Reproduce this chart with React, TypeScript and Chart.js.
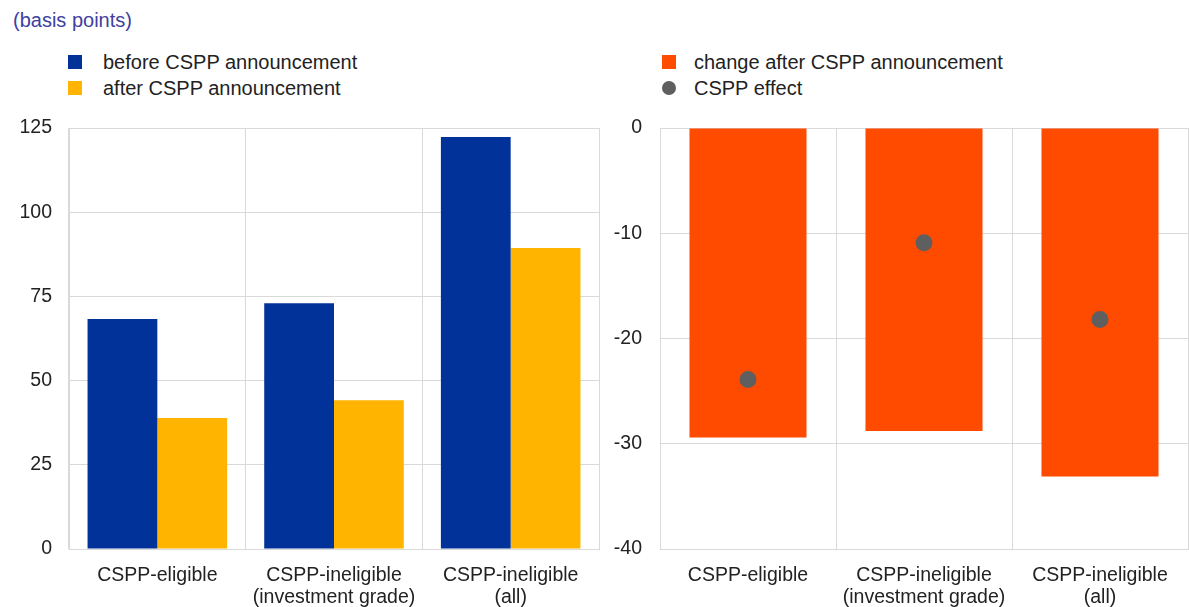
import React, { useEffect, useRef } from "react";
import { Chart, registerables } from "chart.js";

Chart.register(...registerables);

const categories: string[][] = [
  ["CSPP-eligible"],
  ["CSPP-ineligible", "(investment grade)"],
  ["CSPP-ineligible", "(all)"],
];
const beforeValues = [68.3, 73.0, 122.3];
const afterValues = [38.9, 44.2, 89.4];
const changeValues = [-29.4, -28.8, -33.1];
const effectValues = [-23.9, -10.9, -18.2];

const leftTicks = { min: 0, max: 125, step: 25 };
const rightTicks = { min: -40, max: 0, step: 10 };

const seriesNames = {
  before: "before CSPP announcement",
  after: "after CSPP announcement",
  change: "change after CSPP announcement",
  effect: "CSPP effect",
};
const unitLabel = "(basis points)";

const FONT = "'Liberation Sans', Arial, sans-serif";
const AXIS_FONT = 19.5;
const LEGEND_FONT = 20;
const TEXT = "#222222";
const GRID = "#d9d9d9";
const BLUE = "#003299";
const YELLOW = "#ffb400";
const ORANGE = "#ff4b00";
const GREY = "#5f5f5f";

function makeScales(min: number, max: number, step: number, yWidth: number, tickPad: number) {
  return {
    x: {
      offset: true,
      grid: { color: GRID, offset: true, drawTicks: false, lineWidth: 1 },
      border: { color: GRID },
      ticks: {
        color: TEXT,
        font: { family: FONT, size: AXIS_FONT, lineHeight: 1.13 },
        padding: 16,
        maxRotation: 0,
        autoSkip: false,
      },
      afterFit: (s: any) => {
        s.height = 58;
        s.paddingLeft = 0;
        s.paddingRight = 0;
      },
    },
    y: {
      min,
      max,
      grid: { color: GRID, drawTicks: false, lineWidth: 1 },
      border: { color: GRID },
      ticks: {
        stepSize: step,
        color: TEXT,
        font: { family: FONT, size: AXIS_FONT },
        padding: tickPad,
      },
      afterFit: (s: any) => {
        s.width = yWidth;
        s.paddingTop = 0;
        s.paddingBottom = 0;
      },
    },
  };
}

function LeftChart() {
  const ref = useRef<HTMLCanvasElement>(null);
  useEffect(() => {
    if (!ref.current) return;
    const chart = new Chart(ref.current, {
      type: "bar",
      data: {
        labels: categories,
        datasets: [
          { label: seriesNames.before, data: beforeValues, backgroundColor: BLUE, borderWidth: 0 },
          { label: seriesNames.after, data: afterValues, backgroundColor: YELLOW, borderWidth: 0 },
        ],
      },
      options: {
        animation: false,
        responsive: false,
        maintainAspectRatio: false,
        devicePixelRatio: 1,
        layout: { autoPadding: false, padding: { top: 128, left: 0, right: 6, bottom: 0 } },
        datasets: { bar: { categoryPercentage: 0.79, barPercentage: 1 } },
        plugins: { legend: { display: false }, tooltip: { enabled: false } },
        scales: makeScales(leftTicks.min, leftTicks.max, leftTicks.step, 69, 17) as any,
      },
    });
    return () => chart.destroy();
  }, []);
  return <canvas ref={ref} width={605} height={607} style={{ position: "absolute", left: 0, top: 0, width: 605, height: 607 }} />;
}

function RightChart() {
  const ref = useRef<HTMLCanvasElement>(null);
  useEffect(() => {
    if (!ref.current) return;
    const chart = new Chart(ref.current, {
      type: "bar",
      data: {
        labels: categories,
        datasets: [
          {
            type: "line" as any,
            label: seriesNames.effect,
            data: effectValues,
            showLine: false,
            pointRadius: 8.5,
            pointBackgroundColor: GREY,
            pointBorderWidth: 0,
            borderWidth: 0,
            order: 0,
          } as any,
          {
            label: seriesNames.change,
            data: changeValues,
            backgroundColor: ORANGE,
            borderWidth: 0,
            order: 1,
            categoryPercentage: 0.665,
            barPercentage: 1,
          } as any,
        ],
      },
      options: {
        animation: false,
        responsive: false,
        maintainAspectRatio: false,
        devicePixelRatio: 1,
        layout: { autoPadding: false, padding: { top: 128, left: 0, right: 1, bottom: 0 } },
        plugins: { legend: { display: false }, tooltip: { enabled: false } },
        scales: makeScales(rightTicks.min, rightTicks.max, rightTicks.step, 55, 18) as any,
      },
    });
    return () => chart.destroy();
  }, []);
  return <canvas ref={ref} width={584} height={607} style={{ position: "absolute", left: 605, top: 0, width: 584, height: 607 }} />;
}

const textStyle: React.CSSProperties = {
  position: "absolute",
  fontFamily: FONT,
  fontSize: LEGEND_FONT,
  color: TEXT,
  lineHeight: "22px",
  whiteSpace: "nowrap",
};

function LegendItem({ x, y, color, label, round, gap }: { x: number; y: number; color: string; label: string; round?: boolean; gap: number }) {
  return (
    <>
      <div
        style={{
          position: "absolute",
          left: x,
          top: y - 7,
          width: 14,
          height: 14,
          background: color,
          borderRadius: round ? "50%" : 0,
        }}
      />
      <div style={{ ...textStyle, left: x + gap, top: y - 11 }}>{label}</div>
    </>
  );
}

export default function App() {
  return (
    <div style={{ position: "absolute", left: 0, top: 0, width: 1189, height: 607, background: "#fff", overflow: "hidden" }}>
      <div style={{ ...textStyle, left: 13, top: 9, color: "#4040a0" }}>{unitLabel}</div>
      <LegendItem x={68} y={62} color={BLUE} label={seriesNames.before} gap={35} />
      <LegendItem x={68} y={88} color={YELLOW} label={seriesNames.after} gap={35} />
      <LegendItem x={662} y={62} color={ORANGE} label={seriesNames.change} gap={32} />
      <LegendItem x={662} y={88} color={GREY} label={seriesNames.effect} round gap={32} />
      <LeftChart />
      <RightChart />
    </div>
  );
}
